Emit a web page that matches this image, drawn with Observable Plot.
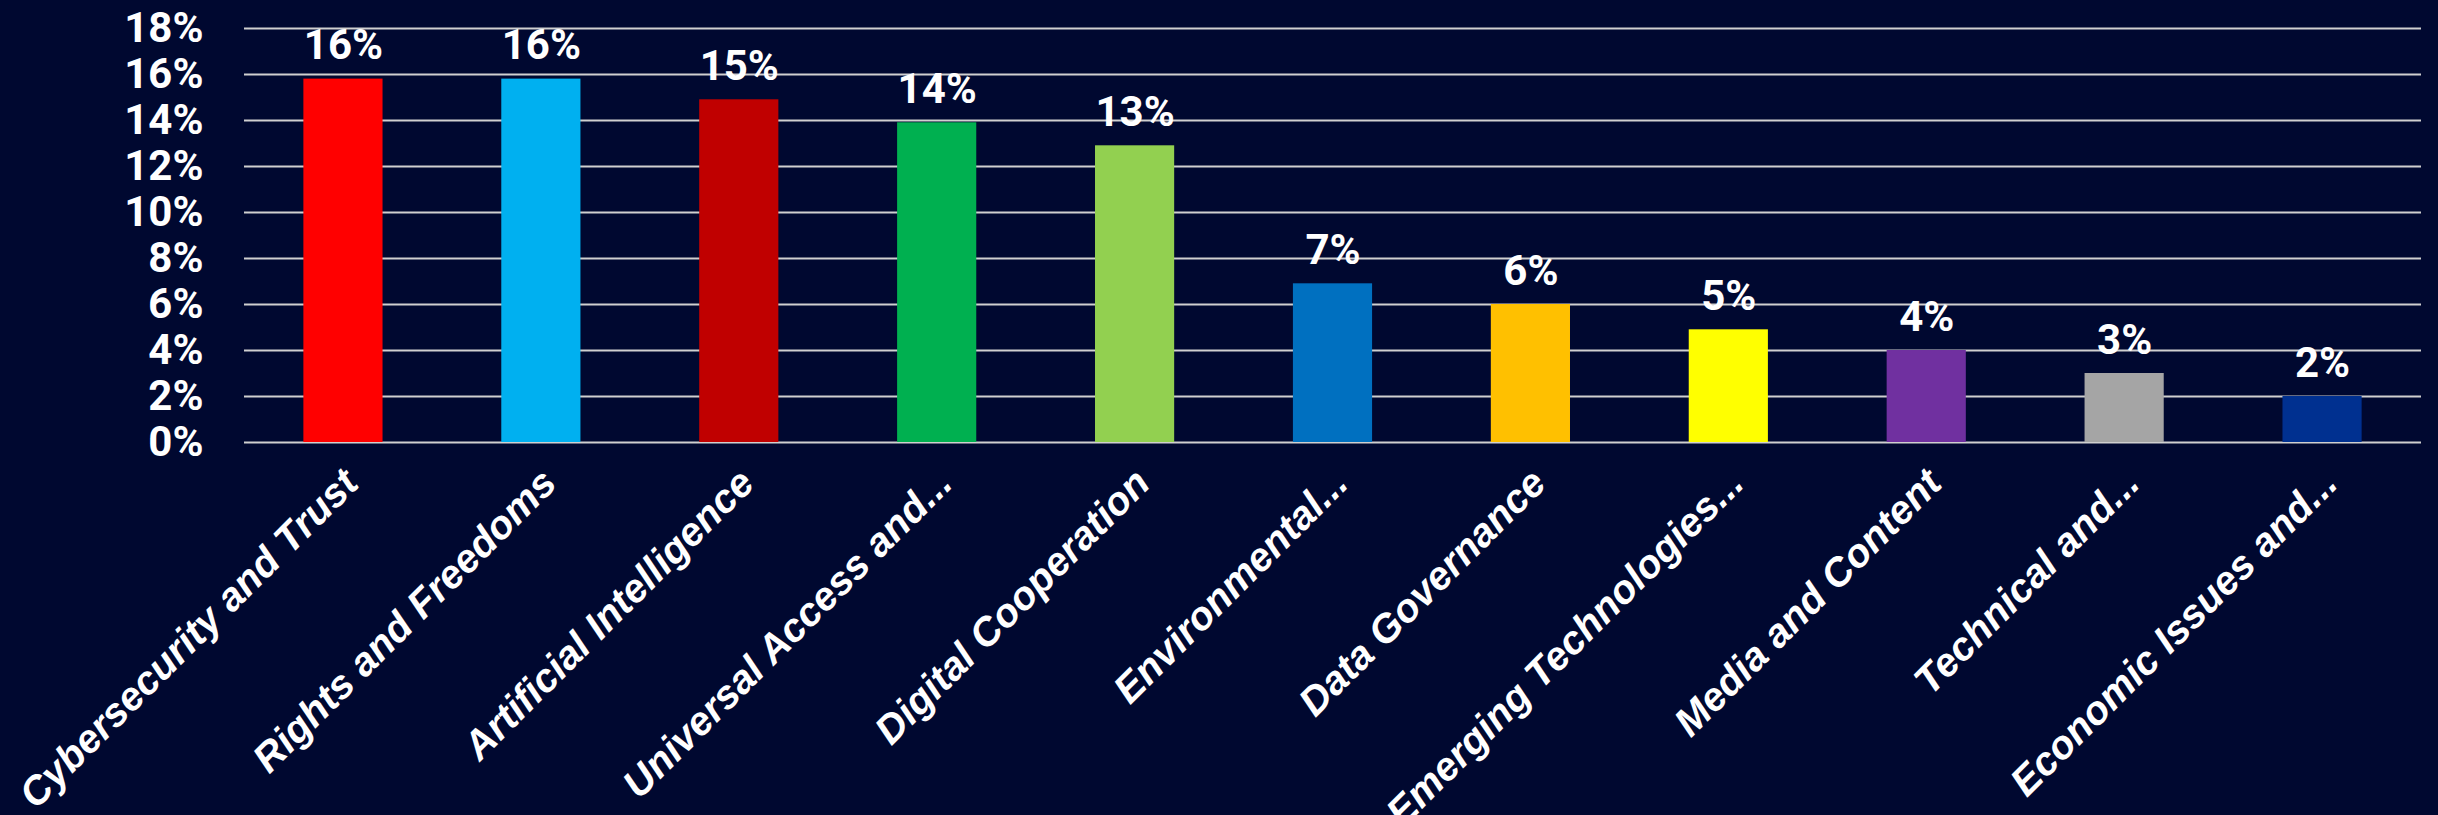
<!DOCTYPE html>
<html><head><meta charset="utf-8">
<script src="https://cdn.jsdelivr.net/npm/d3@7"></script>
<script src="https://cdn.jsdelivr.net/npm/@observablehq/plot@0.6"></script>
<style>html,body{margin:0;padding:0;background:#000830;overflow:hidden;}</style>
</head><body><div id="chart"></div>
<script>
const categories = [
  "Cybersecurity and Trust",
  "Rights and Freedoms",
  "Artificial Intelligence",
  "Universal Access and...",
  "Digital Cooperation",
  "Environmental...",
  "Data Governance",
  "Emerging Technologies...",
  "Media and Content",
  "Technical and...",
  "Economic Issues and..."
];
const values = [15.8, 15.8, 14.9, 13.9, 12.9, 6.9, 6.0, 4.9, 4.0, 3.0, 2.0];
const colors = ["#ff0000", "#00b0f0", "#c00000", "#00b050", "#92d050", "#0070c0", "#ffc000", "#ffff00", "#7030a0", "#a5a5a5", "#003090"];
const yTicks = [0, 2, 4, 6, 8, 10, 12, 14, 16, 18];

const data = categories.map((c, i) => ({category: c, value: values[i]}));

const chart = Plot.plot({
  width: 2438,
  height: 815,
  marginLeft: 244,
  marginRight: 17,
  marginTop: 28,
  marginBottom: 373,
  style: {background: "#000830", color: "white", overflow: "visible"},
  x: {domain: categories, paddingInner: 0.6, paddingOuter: 0.3, round: false, label: null},
  y: {domain: [0, 18], label: null},
  color: {domain: categories, range: colors},
  marks: [
    Plot.gridY({ticks: yTicks, stroke: "#d0d0d0", strokeOpacity: 1, strokeWidth: 2}),
    Plot.barY(data, {x: "category", y: "value", fill: "category"}),
    Plot.text(data, {
      x: "category", y: "value",
      text: d => d3.format(".0f")(d.value) + "%",
      lineAnchor: "bottom", dy: -20,
      fill: "white", fontSize: 42, fontWeight: 700, fontFamily: "Roboto"
    }),
    Plot.axisY({
      ticks: yTicks, tickSize: 0, tickPadding: 41,
      tickFormat: d => d + "%", label: null,
      fontSize: 42, fontWeight: 700, fontFamily: "Roboto", fill: "white"
    }),
    Plot.axisX({
      tickSize: 0, tickRotate: -45, tickPadding: 34, dx: 8, label: null,
      fontSize: 40, fontWeight: 700, fontStyle: "italic",
      fontFamily: "'Liberation Sans', Arial, sans-serif", fill: "white"
    })
  ]
});
document.getElementById("chart").appendChild(chart);
</script>
</body></html>
